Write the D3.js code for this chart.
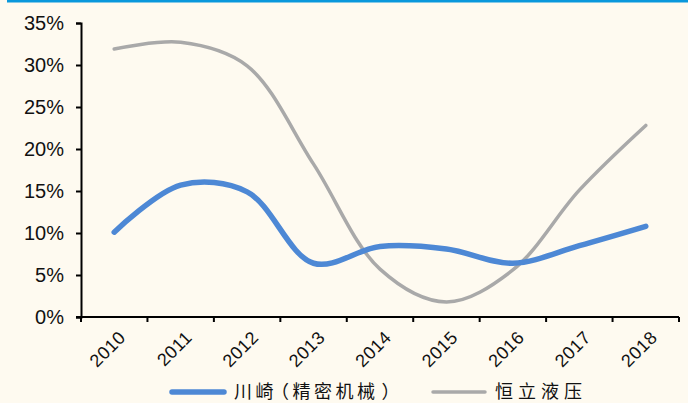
<!DOCTYPE html>
<html>
<head>
<meta charset="utf-8">
<script src="https://cdn.jsdelivr.net/npm/d3@7"></script>
<style>
  html, body { margin: 0; padding: 0; background: #fefaf0; }
  #chart { width: 688px; height: 403px; }
</style>
</head>
<body>
<div id="chart"></div>
<script>
const years = ["2010", "2011", "2012", "2013", "2014", "2015", "2016", "2017", "2018"];
const kawasaki = [0.101, 0.157, 0.149, 0.064, 0.084, 0.081, 0.064, 0.085, 0.108];
const hengli   = [0.319, 0.327, 0.299, 0.182, 0.057, 0.018, 0.056, 0.151, 0.228];
const yTicks   = [0, 0.05, 0.10, 0.15, 0.20, 0.25, 0.30, 0.35];
const seriesNames = ["川崎（精密机械）", "恒立液压"];

const width = 688, height = 403;
const margin = { top: 23, right: 9, bottom: 86, left: 81 };

const svg = d3.select("#chart").append("svg")
    .attr("width", width)
    .attr("height", height);

svg.append("rect")
    .attr("width", width).attr("height", height)
    .attr("fill", "#fefaf0");

// blue bar at the very top
svg.append("rect")
    .attr("x", 7).attr("y", 0)
    .attr("width", width - 7).attr("height", 2.5)
    .attr("fill", "#0a98dc");

const x = d3.scaleBand()
    .domain(years)
    .range([margin.left, width - margin.right]);

const y = d3.scaleLinear()
    .domain([0, 0.35])
    .range([height - margin.bottom, margin.top]);

// y axis
const yAxis = svg.append("g")
    .attr("transform", `translate(${margin.left},0)`)
    .call(d3.axisLeft(y).tickValues(yTicks).tickFormat(d3.format(".0%")).tickSize(5).tickPadding(12));
yAxis.select(".domain").attr("stroke", "#000").attr("stroke-width", 2);
yAxis.selectAll(".tick line").attr("stroke", "#000").attr("stroke-width", 2);
yAxis.selectAll("text")
    .attr("fill", "#111")
    .attr("font-family", "Liberation Sans, Arial, sans-serif")
    .attr("font-size", "20px");

// x axis: ticks on band boundaries
const xg = svg.append("g").attr("transform", `translate(0,${y(0)})`);
xg.append("line")
    .attr("x1", margin.left - 5).attr("x2", width - margin.right)
    .attr("stroke", "#000").attr("stroke-width", 2);
const bounds = years.map(d => x(d)).concat([x(years[years.length - 1]) + x.bandwidth()]);
xg.selectAll("line.tk")
    .data(bounds)
    .enter().append("line")
    .attr("class", "tk")
    .attr("x1", d => d).attr("x2", d => d)
    .attr("y1", 0).attr("y2", 5)
    .attr("stroke", "#000").attr("stroke-width", 2);
xg.selectAll("text")
    .data(years)
    .enter().append("text")
    .attr("transform", d => `translate(${x(d) + x.bandwidth() / 2 + 3},${12}) rotate(-45)`)
    .attr("text-anchor", "end")
    .attr("dy", "0.75em")
    .attr("fill", "#111")
    .attr("font-family", "Liberation Sans, Arial, sans-serif")
    .attr("font-size", "18px")
    .attr("letter-spacing", "0.5px")
    .text(d => d);

const line = d3.line()
    .x((d, i) => x(years[i]) + x.bandwidth() / 2)
    .y(d => y(d))
    .curve(d3.curveCatmullRom.alpha(0.5));

svg.append("path")
    .datum(hengli)
    .attr("d", line)
    .attr("fill", "none")
    .attr("stroke", "#a9a9a9")
    .attr("stroke-width", 3.5)
    .attr("stroke-linecap", "round");

svg.append("path")
    .datum(kawasaki)
    .attr("d", line)
    .attr("fill", "none")
    .attr("stroke", "#4d88d5")
    .attr("stroke-width", 5.5)
    .attr("stroke-linecap", "round");

// legend
const legend = [
    { name: seriesNames[0], color: "#4d88d5", w: 5.5, x0: 172, sp: 3.5 },
    { name: seriesNames[1], color: "#a9a9a9", w: 3.5, x0: 433, sp: 5 }
];
const lg = svg.append("g").attr("transform", "translate(0,392)");
legend.forEach(l => {
    lg.append("line")
        .attr("x1", l.x0).attr("x2", l.x0 + 52)
        .attr("stroke", l.color).attr("stroke-width", l.w)
        .attr("stroke-linecap", "round");
    lg.append("text")
        .attr("x", l.x0 + 62)
        .attr("y", 0)
        .attr("dy", "0.36em")
        .attr("fill", "#111")
        .attr("font-family", "Noto Sans CJK SC, sans-serif")
        .attr("font-size", "18px")
        .attr("letter-spacing", l.sp + "px")
        .style("font-feature-settings", "'halt'")
        .selectAll("tspan")
        .data(Array.from(l.name))
        .enter().append("tspan")
        .attr("dx", c => "（）".includes(c) ? 3 : 0)
        .text(c => c);
});
</script>
</body>
</html>
